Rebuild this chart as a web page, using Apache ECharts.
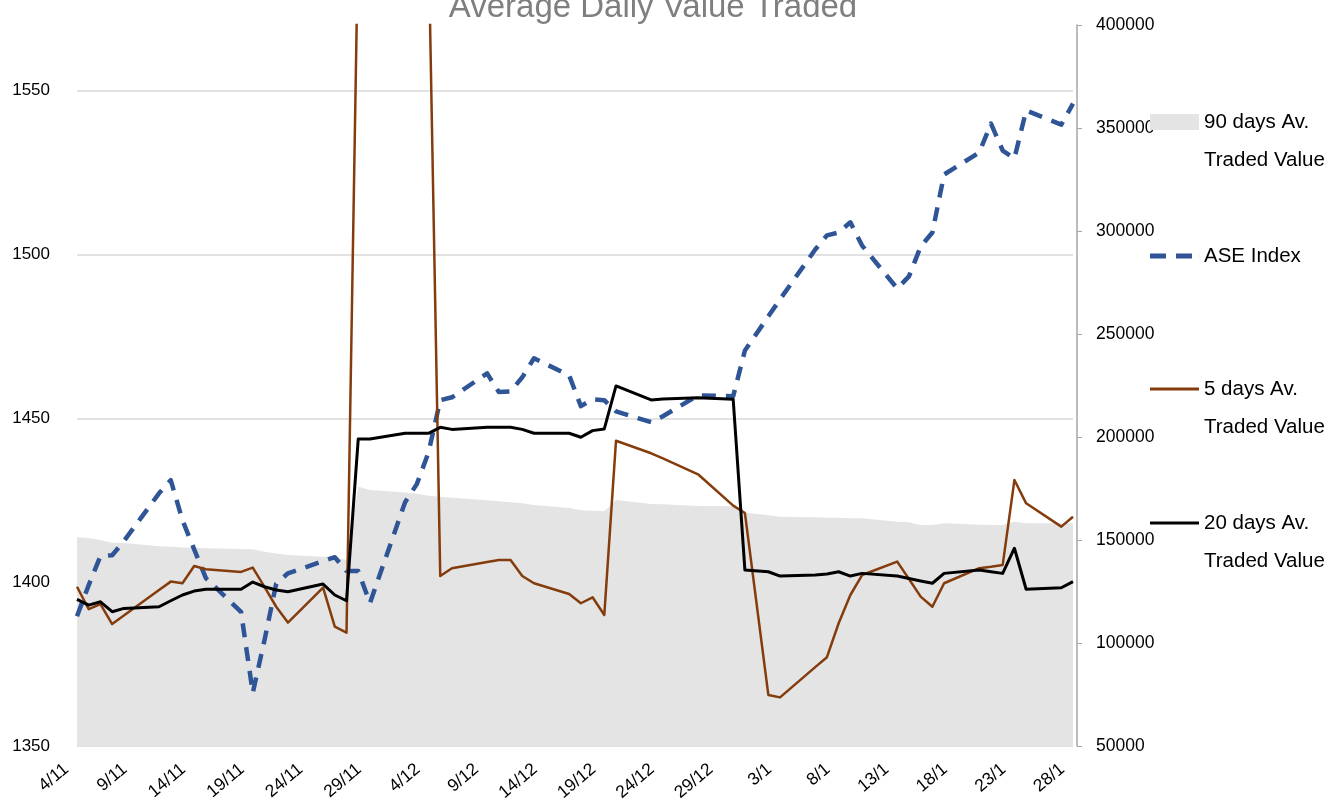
<!DOCTYPE html>
<html>
<head>
<meta charset="utf-8">
<title>Average Daily Value Traded</title>
<script src="https://cdn.jsdelivr.net/npm/echarts@6/dist/echarts.min.js"></script>
<style>
  html, body { margin: 0; padding: 0; background: #fff; }
  #chart { width: 1332px; height: 807px; }
</style>
</head>
<body>
<div id="chart"></div>
<script>
// trading days (d/m) and the values read for each of them
var tradeDays = ['4/11','5/11','6/11','7/11','8/11','11/11','12/11','13/11','14/11','15/11',
  '18/11','19/11','20/11','21/11','22/11','25/11','26/11','27/11','28/11','29/11',
  '2/12','3/12','4/12','5/12','6/12','9/12','10/12','11/12','12/12','13/12',
  '16/12','17/12','18/12','19/12','20/12','23/12','24/12','27/12','30/12','31/12',
  '2/1','3/1','6/1','7/1','8/1','9/1','10/1','13/1','14/1','15/1',
  '16/1','17/1','20/1','21/1','22/1','23/1','24/1','27/1','28/1'];

// ASE Index (left axis)
var aseIndex = [1389.6,1399.1,1407.9,1408.2,1412.5,1427.1,1431.1,1418.9,1410.0,1401.2,
  1390.9,1366.2,1382.3,1399.5,1402.7,1406.4,1407.6,1403.4,1403.4,1393.6,
  1424.4,1429.9,1439.6,1455.5,1456.4,1463.7,1458.0,1458.2,1462.5,1468.3,
  1463.1,1453.7,1455.8,1455.5,1452.1,1448.8,1450.6,1457.0,1456.7,1470.7,
  1481.1,1486.3,1501.5,1505.8,1506.7,1509.8,1502.7,1489.6,1493.3,1502.4,
  1506.7,1524.4,1531.1,1539.9,1531.7,1529.3,1543.9,1539.6,1546.0];

// 90 days Av. Traded Value (right axis)
var avg90 = [151300,151000,150000,148700,148500,147000,146700,146400,146200,146000,
  145600,145500,144300,143500,142700,141900,141600,140300,175900,174300,
  173000,172500,171500,171000,170500,169300,168800,168300,167800,167000,
  165500,164500,164200,164000,169400,167500,167300,166500,166400,163300,
  162000,161300,161000,160800,160800,160600,160500,158900,158600,157300,
  157300,158100,157400,157300,157300,158900,158100,158100,158100];

// 5 days Av. Traded Value (right axis)
var avg5 = [127300,116400,118900,109200,113300,125700,129800,129000,137400,135800,
  134500,136600,127200,117600,109900,126900,107900,105000,446000,447000,
  449000,445000,441000,132500,136300,139300,140300,140300,132500,129000,
  123800,119300,122200,113600,198200,192100,189600,181900,166700,163100,
  74800,73600,88300,93100,109600,123300,133000,139500,131100,122500,
  117600,129000,136300,137000,137900,179100,167800,156500,161300];

// 20 days Av. Traded Value (right axis)
var avg20 = [121200,118400,120000,115200,116800,117600,120500,123300,125200,126100,
  126100,129600,127300,125700,124900,128600,123300,120500,199000,199000,
  201800,201800,201800,204700,203700,204700,204700,204700,203700,201800,
  201800,199900,203100,203900,224800,218000,218400,219100,218300,135400,
  134600,132500,133000,133500,134600,132500,133800,132500,131300,130100,
  129000,133800,135400,134600,133800,146000,126100,126800,129800];

var NAME90 = '90 days Av. Traded Value';
var NAME5 = '5 days Av. Traded Value';
var NAME20 = '20 days Av. Traded Value';
var FONT = '"Liberation Sans", Arial, sans-serif';

// every calendar day from 4/11 to 28/1 sits on the date axis
var calendar = [];
for (var t = new Date(2013, 10, 4); t <= new Date(2014, 0, 28); t.setDate(t.getDate() + 1)) {
  calendar.push(t.getDate() + '/' + (t.getMonth() + 1));
}

function onCalendar(values) {
  var out = calendar.map(function () { return null; });
  tradeDays.forEach(function (d, i) { out[calendar.indexOf(d)] = values[i]; });
  return out;
}

function plain(v) { return String(v); }

// two-line names get a blank first line so that the icon sits beside the first text line
function legendItem(item, top, twoLines) {
  return {
    data: [item], left: 1150, top: top, padding: 0, orient: 'vertical',
    itemWidth: 49, itemHeight: item.h, itemGap: 0,
    formatter: function (n) {
      return twoLines ? '\u00a0\n' + n.replace(' Traded', '\nTraded') : n;
    },
    textStyle: { fontFamily: FONT, fontSize: 20.5, lineHeight: 38, color: '#000' }
  };
}

var chart = echarts.init(document.getElementById('chart'));
chart.setOption({
  animation: false,
  textStyle: { fontFamily: FONT },
  title: {
    text: 'Average Daily Value Traded', left: 653, textAlign: 'center', top: -9, padding: 0,
    textStyle: { fontFamily: FONT, fontSize: 33, lineHeight: 33, fontWeight: 'normal', color: '#7f7f7f' }
  },
  grid: { left: 77, right: 259, top: 25, bottom: 61 },
  legend: [
    legendItem({ name: NAME90, icon: 'rect', h: 16 }, 65, true),
    legendItem({ name: 'ASE Index', icon: 'path://M0,0h16v5h-16z M26,0h16v5h-16z M48.9,0h0.1v5h-0.1z', h: 5 }, 237, false),
    legendItem({ name: NAME5, icon: 'rect', h: 3 }, 332, true),
    legendItem({ name: NAME20, icon: 'rect', h: 3 }, 466, true)
  ],
  xAxis: {
    type: 'category', data: calendar, boundaryGap: false,
    axisLine: { show: false }, axisTick: { show: false }, splitLine: { show: false },
    axisLabel: { interval: 4, rotate: 40, margin: 12, fontSize: 17.5, color: '#000', fontFamily: FONT,
      padding: [0, 14, 0, 0] }
  },
  yAxis: [
    {
      type: 'value', min: 1350, max: 1570, interval: 50,
      axisLine: { show: false }, axisTick: { show: false },
      axisLabel: { margin: 27, fontSize: 17, color: '#000', fontFamily: FONT, showMaxLabel: false, formatter: plain },
      splitLine: { showMaxLine: false, lineStyle: { color: '#d9d9d9', width: 1.5 } }
    },
    {
      type: 'value', min: 50000, max: 400000, interval: 50000, position: 'right', offset: 4,
      axisLine: { show: true, lineStyle: { color: '#a6a6a6', width: 1.5 } },
      axisTick: { show: true, length: 5, lineStyle: { color: '#a6a6a6' } },
      axisLabel: { margin: 19, fontSize: 17.5, color: '#000', fontFamily: FONT, formatter: plain },
      splitLine: { show: false }
    }
  ],
  series: [
    {
      name: NAME90, type: 'line', yAxisIndex: 1, data: onCalendar(avg90), connectNulls: true,
      symbol: 'none', color: '#e4e4e4', lineStyle: { width: 0 },
      areaStyle: { color: '#e4e4e4', opacity: 1 }, z: 1
    },
    {
      name: 'ASE Index', type: 'line', yAxisIndex: 0, data: onCalendar(aseIndex), connectNulls: true,
      symbol: 'none', color: '#2f5597', lineStyle: { width: 4.5, type: [14, 10], join: 'round' }, z: 2
    },
    {
      name: NAME5, type: 'line', yAxisIndex: 1, data: onCalendar(avg5), connectNulls: true,
      symbol: 'none', color: '#843c0c', lineStyle: { width: 2.5, join: 'round' }, z: 3
    },
    {
      name: NAME20, type: 'line', yAxisIndex: 1, data: onCalendar(avg20), connectNulls: true,
      symbol: 'none', color: '#000000', lineStyle: { width: 3, join: 'round' }, z: 4
    }
  ]
});
</script>
</body>
</html>
